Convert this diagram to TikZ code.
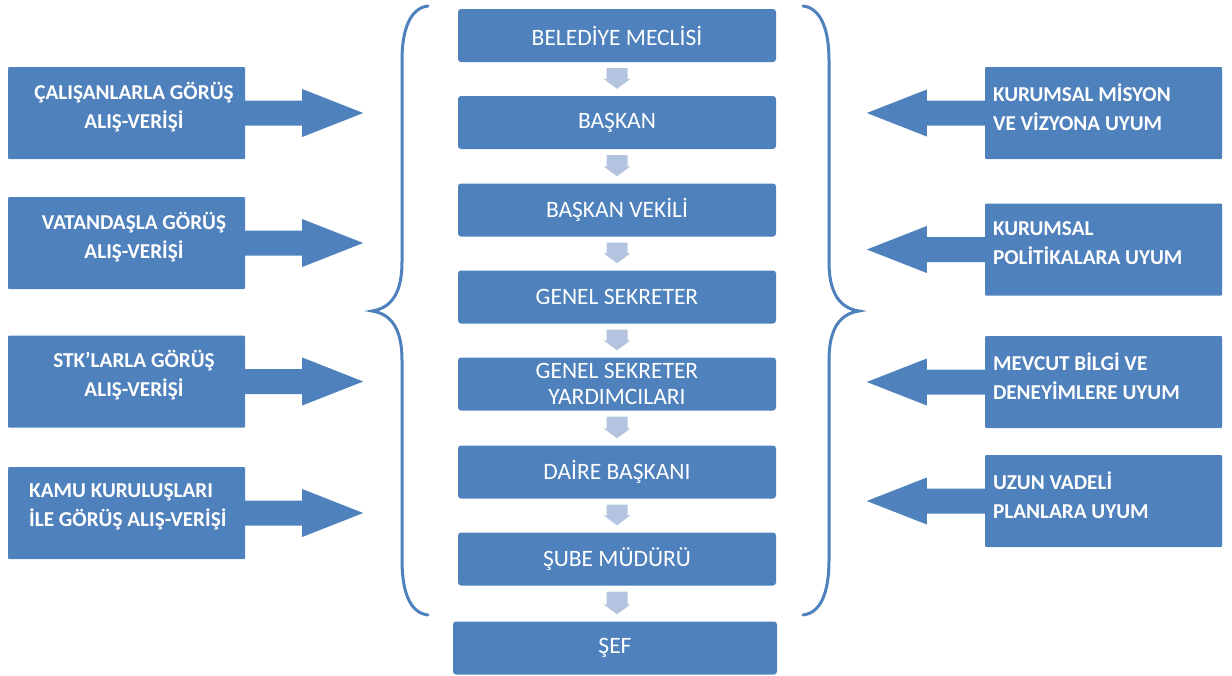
\documentclass[tikz,border=0pt]{standalone}
\usepackage{fontspec}
\setmainfont{Carlito}
\usetikzlibrary{calc}
\definecolor{mblue}{HTML}{4F81BD}
\definecolor{lblue}{HTML}{B4C4E0}
\begin{document}
\begin{tikzpicture}[x=1pt,y=-1pt,
  lvl/.style={rectangle, rounded corners=3pt, fill=mblue, text=white, minimum width=318pt, minimum height=53pt, inner sep=0pt, font=\fontsize{23.5}{26}\selectfont, align=center},
  sidebox/.style={rectangle, rounded corners=1pt, fill=mblue, minimum width=237pt, minimum height=92pt, inner sep=0pt},
  sidetxt/.style={text=white, font=\fontsize{21.2}{29}\bfseries\selectfont, inner sep=0pt},
  bracestyle/.style={draw=mblue, line width=3pt, line cap=round},
  downarrow/.style={fill=lblue},
  blockarrow/.style={fill=mblue}]
\useasboundingbox (0,0) rectangle (1232,675);

% central column
\node[lvl] (B1) at (617,35.5) {BELEDİYE MECLİSİ};
\node[lvl] (B2) at (617,122.5) {BAŞKAN};
\node[lvl] (B3) at (617,210) {BAŞKAN VEKİLİ};
\node[lvl] (B4) at (617,297) {GENEL SEKRETER};
\node[lvl] (B5) at (617,384) {GENEL SEKRETER\\YARDIMCILARI};
\node[lvl] (B6) at (617,472) {DAİRE BAŞKANI};
\node[lvl] (B7) at (617,559) {ŞUBE MÜDÜRÜ};
\node[lvl, minimum width=324pt] (B8) at (615,648) {ŞEF};

\foreach \a/\b in {B1/B2,B2/B3,B3/B4,B4/B5,B5/B6,B6/B7,B7/B8}{
  \fill[downarrow] ($(\a.south)+(-10.5,6)$) -- ($(\a.south)+(10.5,6)$)
    -- ($(\a.south |- \b.north)+(10.5,-17)$) -- ($(\a.south |- \b.north)+(13.5,-17)$)
    -- ($(\a.south |- \b.north)+(0,-7)$)
    -- ($(\a.south |- \b.north)+(-13.5,-17)$) -- ($(\a.south |- \b.north)+(-10.5,-17)$) -- cycle;
}

% braces
\draw[bracestyle] (428,6) .. controls (410,8) and (402,30) .. (402,60) -- (402,262)
  .. controls (402,292) and (392,308) .. (372,311)
  .. controls (392,314) and (402,330) .. (402,360) -- (402,560)
  .. controls (402,592) and (410,613) .. (428,615);
\draw[bracestyle] (803,6) .. controls (821,8) and (829,30) .. (829,60) -- (829,262)
  .. controls (829,292) and (839,308) .. (859,311)
  .. controls (839,314) and (829,330) .. (829,360) -- (829,560)
  .. controls (829,592) and (821,613) .. (803,615);

% left side
\node[sidebox] (L1) at (126.5,113) {};
\node[sidebox] (L2) at (126.5,243) {};
\node[sidebox] (L3) at (126.5,381.5) {};
\node[sidebox] (L4) at (126.5,513) {};
\foreach \n in {L1,L2,L3,L4}{
  \fill[blockarrow] ($(\n.east)+(-1,-12.5)$) -- ($(\n.east)+(57,-12.5)$) -- ($(\n.east)+(57,-24)$)
    -- ($(\n.east)+(118,0)$) -- ($(\n.east)+(57,24)$) -- ($(\n.east)+(57,12.5)$) -- ($(\n.east)+(-1,12.5)$) -- cycle;
}
\node[sidetxt, align=center] (tL1) at ($(L1.center)+(7.5,-6)$) {ÇALIŞANLARLA GÖRÜŞ\\ALIŞ-VERİŞİ};
\node[sidetxt, align=center] (tL2) at ($(L2.center)+(7.5,-6)$) {VATANDAŞLA GÖRÜŞ\\ALIŞ-VERİŞİ};
\node[sidetxt, align=center] (tL3) at ($(L3.center)+(7.5,-6)$) {STK’LARLA GÖRÜŞ\\ALIŞ-VERİŞİ};
\node[sidetxt, align=left, anchor=west] (tL4) at ($(L4.center)+(-97.5,-6)$) {KAMU KURULUŞLARI\\İLE GÖRÜŞ ALIŞ-VERİŞİ};

% right side
\node[sidebox] (R1) at (1103.5,113) {};
\node[sidebox] (R2) at (1103.5,249.5) {};
\node[sidebox] (R3) at (1103.5,382) {};
\node[sidebox] (R4) at (1103.5,501) {};
\foreach \n in {R1,R2,R3,R4}{
  \fill[blockarrow] ($(\n.west)+(1,-12.5)$) -- ($(\n.west)+(-58,-12.5)$) -- ($(\n.west)+(-58,-23.5)$)
    -- ($(\n.west)+(-118,0)$) -- ($(\n.west)+(-58,23.5)$) -- ($(\n.west)+(-58,12.5)$) -- ($(\n.west)+(1,12.5)$) -- cycle;
}
\node[sidetxt, align=left, anchor=west] (tR1) at ($(R1.west)+(8,-6)$) {KURUMSAL MİSYON\\VE VİZYONA UYUM};
\node[sidetxt, align=left, anchor=west] (tR2) at ($(R2.west)+(8,-6)$) {KURUMSAL\\POLİTİKALARA UYUM};
\node[sidetxt, align=left, anchor=west] (tR3) at ($(R3.west)+(8,-6)$) {MEVCUT BİLGİ VE\\DENEYİMLERE UYUM};
\node[sidetxt, align=left, anchor=west] (tR4) at ($(R4.west)+(8,-6)$) {UZUN VADELİ\\PLANLARA UYUM};
\end{tikzpicture}
\end{document}
